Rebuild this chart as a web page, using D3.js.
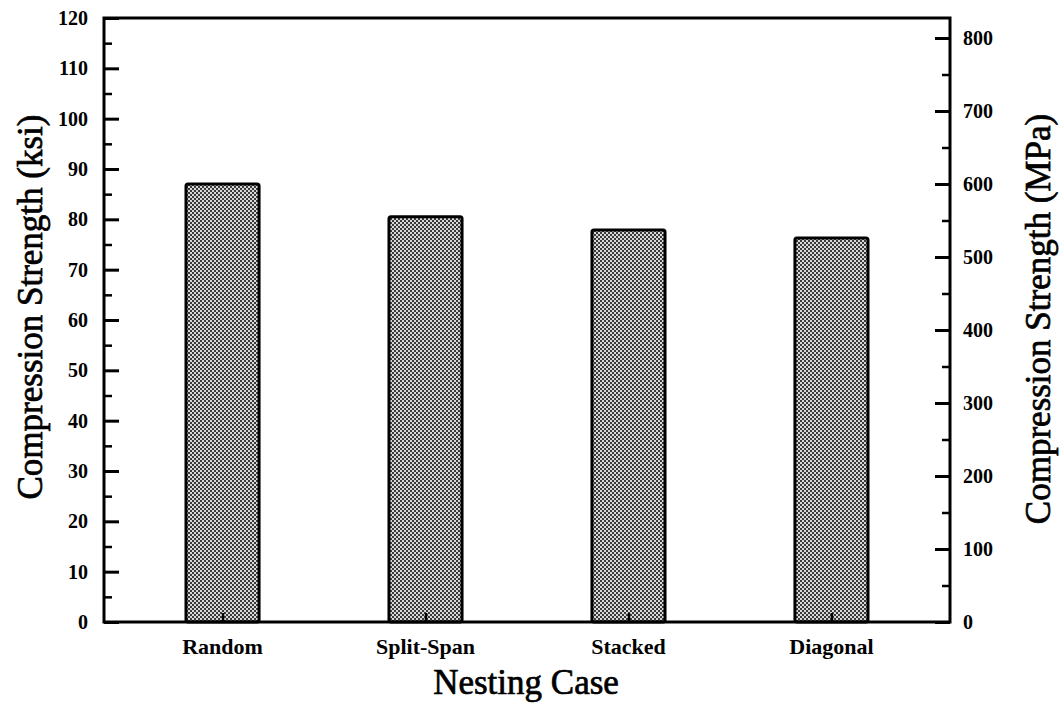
<!DOCTYPE html>
<html><head><meta charset="utf-8">
<script src="https://cdn.jsdelivr.net/npm/d3@7"></script>
<style>body{margin:0;background:#fff}svg{display:block}</style>
</head><body>
<svg id="c" width="1060" height="703"></svg>
<script>
const categories = ["Random", "Split-Span", "Stacked", "Diagonal"];
const strengthKsi = [87.0, 80.5, 77.9, 76.3];
const leftTicks = [0,10,20,30,40,50,60,70,80,90,100,110,120];
const rightTicks = [0,100,200,300,400,500,600,700,800];
const KSI_TO_MPA = 6.895;

const svg = d3.select("#c");
const L = 104, R = 950, T = 18, B = 622;
const font = "'Liberation Serif', 'Times New Roman', serif";

const defs = svg.append("defs");
const pat = defs.append("pattern").attr("id","dots").attr("patternUnits","userSpaceOnUse")
  .attr("width",4).attr("height",4);
pat.append("rect").attr("width",4).attr("height",4).attr("fill","#d8d8d8");
pat.append("rect").attr("x",0).attr("y",0).attr("width",2).attr("height",2).attr("fill","#3a3a3a");
pat.append("rect").attr("x",2).attr("y",2).attr("width",2).attr("height",2).attr("fill","#3a3a3a");

const x = d3.scalePoint().domain(categories).range([L,R]).padding(0.584);
const barW = x.step()*0.36;
const y = d3.scaleLinear().domain([0,120]).range([B,T]);
const y2 = d3.scaleLinear().domain([0,120*KSI_TO_MPA]).range([B,T]);

// bars
svg.append("g").selectAll("rect").data(categories).join("rect")
  .attr("x", d=>x(d)-barW/2).attr("width", barW)
  .attr("y", (d,i)=>y(strengthKsi[i])).attr("height", (d,i)=>B-y(strengthKsi[i]))
  .attr("fill","url(#dots)").attr("stroke","#000").attr("stroke-width",3).attr("rx",2);

// left axis
const la = svg.append("g").attr("transform",`translate(${L},0)`)
  .call(d3.axisRight(y).tickValues(leftTicks).tickSize(15).tickFormat(""));
la.selectAll("line").attr("stroke","#000").attr("stroke-width",3);
la.select(".domain").remove();
const lminor = svg.append("g").attr("transform",`translate(${L},0)`)
  .call(d3.axisRight(y).tickValues(d3.range(5,120,10)).tickSize(8).tickFormat(""));
lminor.selectAll("line").attr("stroke","#000").attr("stroke-width",2.5);
lminor.select(".domain").remove();
svg.append("g").selectAll("text").data(leftTicks).join("text")
  .attr("x", 88).attr("y", d=>y(d)).attr("dy","0.35em").attr("text-anchor","end")
  .attr("font-family",font).attr("font-weight","bold").attr("font-size",20).text(d=>d);

// right axis
const ra = svg.append("g").attr("transform",`translate(${R},0)`)
  .call(d3.axisLeft(y2).tickValues(rightTicks).tickSize(15).tickFormat(""));
ra.selectAll("line").attr("stroke","#000").attr("stroke-width",3);
ra.select(".domain").remove();
const rminor = svg.append("g").attr("transform",`translate(${R},0)`)
  .call(d3.axisLeft(y2).tickValues(d3.range(50,820,100)).tickSize(8).tickFormat(""));
rminor.selectAll("line").attr("stroke","#000").attr("stroke-width",2.5);
rminor.select(".domain").remove();
svg.append("g").selectAll("text").data(rightTicks).join("text")
  .attr("x", 963).attr("y", d=>y2(d)).attr("dy","0.35em").attr("text-anchor","start")
  .attr("font-family",font).attr("font-weight","bold").attr("font-size",20).text(d=>d);

// x axis minor ticks at bar centres
const xa = svg.append("g").attr("transform",`translate(0,${B})`)
  .call(d3.axisTop(x).tickSize(9).tickFormat(""));
xa.selectAll("line").attr("stroke","#000").attr("stroke-width",2.5);
xa.select(".domain").remove();
svg.append("g").selectAll("text").data(categories).join("text")
  .attr("x", d=>x(d)).attr("y", 654).attr("text-anchor","middle")
  .attr("font-family",font).attr("font-weight","bold").attr("font-size",22).text(d=>d);

// frame
svg.append("rect").attr("x",L).attr("y",T).attr("width",R-L).attr("height",B-T)
  .attr("fill","none").attr("stroke","#000").attr("stroke-width",3);

// titles
svg.append("text").attr("transform",`translate(42,307) rotate(-90)`)
  .attr("text-anchor","middle").attr("font-family",font).attr("font-size",35)
  .attr("stroke","#000").attr("stroke-width",0.7).text("Compression Strength (ksi)");
svg.append("text").attr("transform",`translate(1050,319) rotate(-90)`)
  .attr("text-anchor","middle").attr("font-family",font).attr("font-size",35)
  .attr("stroke","#000").attr("stroke-width",0.7).text("Compression Strength (MPa)");
svg.append("text").attr("x",526).attr("y",694).attr("text-anchor","middle")
  .attr("font-family",font).attr("font-size",35)
  .attr("stroke","#000").attr("stroke-width",0.7).text("Nesting Case");
</script>
</body></html>
